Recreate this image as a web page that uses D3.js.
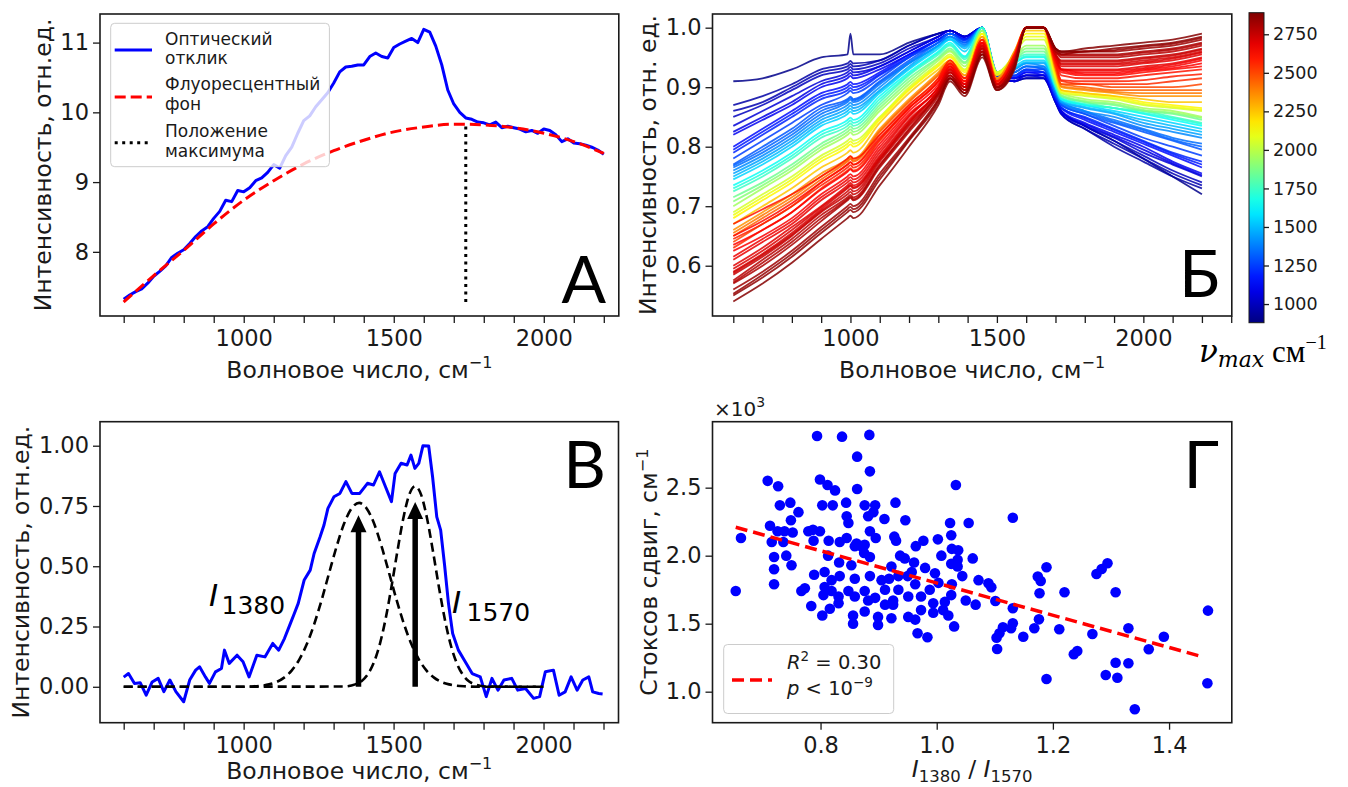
<!DOCTYPE html>
<html><head><meta charset="utf-8">
<script src="https://cdn.jsdelivr.net/npm/d3@7"></script>
<style>
html,body{margin:0;padding:0;background:#fff;}
svg{display:block;}
</style></head>
<body><svg id="chart" width="1348" height="787"></svg>
<script>
// ================= DATA =================
// Panel A: optical response and fluorescence background
const optWave = [600,620,640,660,680,700,720,740,760,780,800,820,840,860,880,900,920,940,960,980,1000,1020,1040,1060,1080,1100,1120,1140,1160,1180,1200,1220,1240,1260,1280,1300,1320,1340,1360,1380,1400,1420,1440,1460,1480,1500,1520,1540,1560,1580,1600,1620,1640,1660,1680,1700,1720,1740,1760,1780,1800,1820,1840,1860,1880,1900,1920,1940,1960,1980,2000,2020,2040,2060,2080,2100,2120,2140,2160,2180,2200];
const optResp = [7.32,7.38,7.43,7.47,7.55,7.65,7.72,7.80,7.92,7.98,8.03,8.12,8.22,8.30,8.36,8.48,8.58,8.74,8.72,8.88,8.86,8.92,9.02,9.06,9.14,9.25,9.20,9.38,9.50,9.70,9.88,9.95,10.08,10.18,10.28,10.42,10.58,10.65,10.66,10.68,10.68,10.80,10.85,10.80,10.78,10.93,10.98,11.02,11.06,11.00,11.19,11.15,10.95,10.68,10.32,10.12,10.00,9.92,9.90,9.86,9.85,9.82,9.86,9.78,9.80,9.78,9.76,9.72,9.74,9.70,9.76,9.74,9.68,9.58,9.62,9.56,9.55,9.53,9.50,9.46,9.40];
const bgWave = [600,700,800,900,1000,1100,1200,1300,1400,1500,1600,1700,1740,1800,1900,2000,2100,2200];
const bgVal  = [7.28,7.66,8.02,8.40,8.74,9.02,9.26,9.45,9.60,9.72,9.79,9.83,9.83,9.82,9.78,9.70,9.58,9.41];
const maxPos = 1740;
const maxSpan = [7.28, 9.83];

// Panel Б: normalized spectra coloured by nu_max
const specGrid = [600,700,800,900,990,1000,1010,1100,1200,1300,1340,1390,1450,1500,1560,1600,1660,1700,1720,1800,1900,2000,2100,2200];
const specVmax = [900,950,975,1000,1050,1075,1100,1150,1175,1200,1250,1300,1325,1350,1400,1450,1500,1550,1650,1700,1750,1850,1900,1950,2050,2100,2150,2250,2350,2400,2450,2500,2550,2580,2600,2620,2640,2650,2670,2680,2700,2710,2720,2740,2750,2780,2790,2800,2830,2850,2860,2880];
const specVals = [
[.91,.915,.93,.95,.955,.99,.955,.955,.975,.99,.995,.985,1.0,.925,.915,.92,.92,.88,.86,.835,.81,.78,.75,.72],
[.87,.885,.905,.93,.94,.944,.94,.945,.97,.99,.995,.985,1.0,.92,.91,.915,.915,.875,.855,.83,.80,.775,.75,.73],
[.86,.875,.90,.925,.935,.939,.935,.945,.97,.99,.995,.985,1.0,.92,.91,.915,.915,.875,.855,.83,.805,.78,.755,.735],
[.85,.87,.895,.92,.93,.934,.93,.94,.965,.985,.995,.985,1.0,.92,.915,.92,.92,.88,.86,.835,.81,.785,.76,.74],
[.835,.86,.885,.91,.925,.929,.925,.935,.96,.985,.995,.985,1.0,.915,.91,.92,.915,.875,.855,.835,.815,.79,.77,.75],
[.825,.85,.875,.905,.92,.924,.92,.935,.96,.985,.995,.985,1.0,.915,.91,.92,.92,.878,.858,.838,.817,.795,.772,.752],
[.82,.845,.87,.90,.915,.919,.915,.93,.955,.98,.99,.982,1.0,.915,.915,.925,.92,.88,.86,.84,.82,.80,.775,.755],
[.80,.83,.86,.89,.905,.909,.905,.925,.955,.98,.99,.98,1.0,.915,.915,.925,.925,.88,.865,.845,.825,.805,.785,.765],
[.795,.825,.855,.885,.90,.904,.90,.922,.952,.98,.99,.98,1.0,.918,.918,.928,.925,.882,.866,.848,.828,.808,.788,.77],
[.79,.82,.85,.88,.895,.899,.895,.92,.95,.98,.99,.98,1.0,.92,.92,.93,.925,.885,.865,.85,.83,.81,.79,.775],
[.78,.81,.84,.87,.89,.894,.89,.915,.95,.975,.99,.978,1.0,.92,.92,.93,.93,.885,.87,.855,.835,.815,.80,.785],
[.77,.80,.83,.865,.88,.884,.88,.91,.945,.975,.985,.975,1.0,.92,.925,.935,.93,.89,.87,.855,.84,.825,.81,.795],
[.768,.795,.825,.86,.878,.882,.878,.908,.942,.975,.99,.975,1.0,.922,.925,.935,.932,.89,.872,.858,.842,.828,.812,.80],
[.765,.79,.82,.855,.875,.879,.875,.905,.94,.97,.985,.972,1.0,.925,.925,.935,.935,.89,.875,.86,.845,.83,.815,.805],
[.76,.785,.815,.85,.87,.874,.87,.90,.94,.97,.985,.97,1.0,.925,.93,.94,.935,.895,.875,.86,.85,.835,.825,.815],
[.755,.78,.81,.845,.865,.869,.865,.895,.935,.97,.98,.968,1.0,.925,.93,.94,.94,.895,.875,.865,.855,.84,.83,.82],
[.75,.775,.805,.84,.86,.864,.86,.893,.932,.968,.982,.965,1.0,.925,.932,.942,.942,.897,.877,.867,.857,.845,.835,.825],
[.745,.77,.80,.835,.855,.859,.855,.89,.93,.965,.98,.96,1.0,.925,.935,.945,.945,.90,.88,.87,.86,.85,.84,.83],
[.735,.76,.79,.825,.845,.849,.845,.885,.925,.96,.975,.952,1.0,.925,.94,.95,.95,.90,.88,.87,.865,.855,.845,.835],
[.73,.755,.785,.82,.84,.844,.84,.88,.922,.958,.972,.95,1.0,.925,.942,.952,.952,.902,.882,.872,.865,.857,.848,.838],
[.725,.75,.78,.815,.835,.839,.835,.875,.92,.955,.97,.947,1.0,.925,.945,.955,.955,.905,.885,.875,.865,.86,.85,.84],
[.715,.74,.77,.805,.83,.834,.83,.87,.915,.95,.965,.942,.995,.925,.945,.96,.96,.905,.885,.875,.87,.86,.855,.845],
[.708,.735,.765,.80,.825,.829,.825,.865,.91,.948,.962,.94,.995,.925,.948,.965,.965,.907,.887,.877,.872,.862,.857,.848],
[.70,.73,.76,.795,.82,.824,.82,.86,.905,.945,.96,.935,.995,.925,.95,.97,.97,.91,.89,.88,.875,.865,.86,.85],
[.69,.72,.75,.785,.81,.814,.81,.85,.90,.94,.955,.93,.99,.925,.955,.98,.98,.915,.89,.885,.88,.87,.865,.86],
[.685,.715,.745,.78,.805,.809,.805,.848,.897,.937,.952,.928,.99,.922,.955,.985,.985,.917,.892,.887,.882,.872,.867,.862],
[.68,.71,.74,.775,.80,.804,.80,.845,.895,.935,.95,.925,.99,.92,.955,.99,.99,.92,.895,.89,.885,.875,.87,.865],
[.67,.70,.73,.765,.79,.794,.79,.84,.89,.93,.945,.92,.985,.915,.96,.995,.995,.925,.895,.89,.885,.88,.875,.875],
[.66,.69,.72,.755,.78,.784,.78,.83,.88,.925,.945,.92,.985,.915,.96,1.0,1.0,.93,.90,.895,.89,.885,.885,.885],
[.655,.685,.715,.75,.777,.781,.777,.827,.877,.922,.942,.915,.98,.912,.957,1.0,1.0,.932,.902,.897,.892,.89,.89,.89],
[.65,.68,.71,.745,.775,.779,.775,.825,.875,.92,.94,.915,.98,.91,.955,1.0,1.0,.935,.905,.90,.895,.895,.895,.895],
[.64,.67,.70,.74,.77,.774,.77,.82,.87,.915,.94,.915,.98,.91,.955,1.0,1.0,.935,.905,.905,.90,.90,.90,.905],
[.63,.66,.69,.73,.76,.764,.76,.81,.865,.91,.935,.91,.975,.91,.95,1.0,1.0,.94,.91,.905,.905,.905,.91,.915],
[.645,.67,.70,.735,.765,.769,.765,.812,.865,.91,.938,.91,.975,.908,.95,1.0,1.0,.94,.912,.91,.91,.912,.918,.922],
[.67,.695,.72,.75,.78,.784,.78,.82,.87,.915,.945,.915,.98,.91,.955,1.0,1.0,.945,.92,.915,.915,.92,.925,.93],
[.65,.675,.705,.74,.77,.774,.77,.815,.865,.91,.94,.91,.975,.905,.95,1.0,1.0,.945,.925,.92,.92,.925,.93,.935],
[.635,.66,.69,.728,.758,.762,.758,.805,.86,.905,.935,.905,.975,.905,.948,1.0,1.0,.947,.928,.922,.922,.928,.932,.94],
[.625,.65,.68,.72,.75,.754,.75,.80,.855,.90,.935,.905,.975,.905,.95,1.0,1.0,.95,.93,.925,.925,.93,.935,.945],
[.615,.645,.675,.715,.745,.749,.745,.795,.852,.90,.932,.905,.972,.905,.946,1.0,1.0,.95,.93,.928,.928,.932,.938,.948],
[.61,.64,.67,.71,.74,.744,.74,.79,.85,.90,.93,.905,.97,.905,.945,1.0,1.0,.95,.93,.93,.93,.935,.94,.95],
[.60,.63,.665,.70,.735,.739,.735,.785,.845,.895,.93,.90,.97,.905,.945,1.0,1.0,.955,.935,.935,.935,.94,.945,.955],
[.595,.625,.66,.698,.732,.736,.732,.782,.842,.895,.928,.90,.968,.905,.945,1.0,1.0,.955,.938,.938,.938,.942,.948,.958],
[.59,.62,.655,.695,.73,.734,.73,.78,.84,.895,.925,.90,.965,.905,.945,1.0,1.0,.955,.94,.94,.94,.945,.95,.96],
[.588,.618,.652,.692,.725,.729,.725,.778,.838,.892,.925,.90,.965,.902,.942,1.0,1.0,.955,.943,.943,.943,.948,.953,.963],
[.585,.615,.65,.69,.72,.724,.72,.775,.835,.89,.925,.90,.965,.90,.94,1.0,1.0,.955,.945,.945,.945,.95,.955,.965],
[.575,.61,.645,.685,.715,.719,.715,.77,.83,.89,.92,.895,.96,.90,.94,1.0,1.0,.96,.95,.95,.95,.955,.96,.97],
[.572,.605,.64,.68,.712,.716,.712,.768,.828,.888,.92,.895,.96,.90,.94,1.0,1.0,.96,.953,.953,.953,.958,.963,.973],
[.57,.60,.635,.675,.71,.714,.71,.765,.825,.885,.92,.895,.96,.90,.94,1.0,1.0,.96,.955,.955,.955,.96,.965,.975],
[.56,.59,.625,.665,.70,.704,.70,.755,.815,.88,.915,.89,.955,.90,.935,1.0,1.0,.965,.955,.96,.96,.965,.97,.98],
[.553,.585,.62,.66,.695,.699,.695,.75,.812,.878,.915,.89,.955,.898,.935,1.0,1.0,.965,.958,.96,.962,.968,.973,.983],
[.55,.58,.615,.655,.69,.694,.69,.745,.81,.875,.915,.89,.955,.895,.935,1.0,1.0,.965,.96,.96,.965,.97,.975,.985],
[.54,.57,.605,.645,.68,.684,.68,.735,.80,.87,.91,.885,.95,.895,.93,1.0,1.0,.965,.96,.965,.97,.975,.98,.99]
];
const cbarRange = [879, 2890];
const cbarTicks = [1000,1250,1500,1750,2000,2250,2500,2750];

// Panel В: background-subtracted spectrum and two bands
const normWave = [600,616,636,655,675,695,715,734,754,774,800,820,840,853,873,886,906,926,936,952,978,998,1018,1044,1071,1097,1117,1136,1156,1169,1182,1202,1222,1235,1255,1268,1281,1301,1321,1341,1361,1387,1413,1433,1453,1473,1493,1505,1525,1545,1558,1571,1584,1598,1617,1630,1644,1657,1670,1683,1697,1716,1736,1762,1789,1809,1828,1848,1868,1894,1914,1940,1967,1987,2006,2033,2052,2072,2092,2112,2131,2151,2164,2184,2197];
const normResp = [0.04,0.055,0.014,0.017,-0.035,0.02,0.035,-0.02,0.028,-0.02,-0.062,0.028,0.069,0.083,0.04,0.014,0.062,0.076,0.152,0.097,0.131,0.104,0.041,0.131,0.124,0.18,0.152,0.2,0.263,0.304,0.346,0.443,0.484,0.553,0.622,0.671,0.74,0.788,0.802,0.851,0.802,0.802,0.844,0.837,0.892,0.83,0.768,0.885,0.927,0.92,0.961,0.906,0.927,1.0,0.999,0.871,0.705,0.65,0.505,0.346,0.221,0.152,0.11,0.055,0.041,-0.041,0.035,-0.014,0.028,0.035,-0.014,-0.007,-0.048,-0.041,0.062,0.069,-0.035,-0.021,0.041,-0.014,0.028,0.041,-0.021,-0.028,-0.03];
const band1380Wave = [600,985,1035,1085,1110,1135,1160,1185,1210,1235,1260,1285,1310,1335,1360,1385,1410,1435,1460,1485,1510,1535,1560,1585,1610,1635,1660,1685,1735,1785,2000];
const band1380Val  = [0,0,0.002,0.010,0.020,0.038,0.067,0.112,0.175,0.259,0.360,0.472,0.582,0.677,0.740,0.763,0.740,0.677,0.582,0.472,0.360,0.259,0.175,0.112,0.067,0.038,0.020,0.010,0.002,0,0];
const band1570Wave = [600,1332,1372,1392,1412,1432,1452,1472,1492,1512,1532,1552,1572,1592,1612,1632,1652,1672,1692,1712,1732,1752,1772,1812,2000];
const band1570Val  = [0,0.001,0.010,0.022,0.048,0.094,0.167,0.273,0.408,0.557,0.696,0.796,0.832,0.796,0.696,0.557,0.408,0.273,0.167,0.094,0.048,0.022,0.010,0.001,0];
const arrowWave = [1383, 1572];
const arrowTop  = [0.712, 0.767];

// Panel Г: Stokes shift vs I1380/I1570
const ratio = [0.709,0.727,0.799,0.812,0.825,0.863,0.885,1.033,0.730,0.748,0.762,0.749,0.803,0.821,0.844,0.845,0.848,0.876,0.894,0.882,0.891,0.910,0.929,0.946,0.713,0.726,0.738,0.752,0.663,0.716,0.736,0.779,0.787,0.799,0.788,0.814,0.833,0.845,0.862,0.876,0.885,0.895,0.927,0.930,0.964,0.977,1.002,1.023,1.055,1.025,1.026,1.037,1.008,0.720,0.741,0.750,0.720,0.720,0.654,0.813,0.832,0.853,0.859,0.870,0.885,0.875,0.922,0.937,0.945,0.961,0.957,0.980,0.997,1.025,1.036,1.036,1.062,1.044,1.072,0.789,0.807,0.819,0.833,0.859,0.885,0.905,0.918,0.934,0.950,0.773,0.767,0.807,0.805,0.819,0.831,0.848,0.859,0.876,0.894,0.911,0.925,0.951,0.973,0.994,1.014,1.025,0.784,0.803,0.816,0.831,0.856,0.856,0.876,0.899,0.899,0.922,0.925,0.951,0.963,0.967,0.984,0.973,0.994,1.011,1.020,1.030,1.050,1.067,0.911,0.882,0.934,0.988,1.003,0.963,1.026,0.794,0.837,0.884,0.863,1.131,1.089,1.094,1.101,1.189,1.174,1.179,1.177,1.220,1.294,1.284,1.275,1.308,1.131,1.176,1.131,1.114,1.128,1.103,1.108,1.104,1.149,1.168,1.211,1.268,1.330,1.391,1.365,1.236,1.242,1.308,1.330,1.291,1.311,1.189,1.341,1.467,1.466];
const stokes = [2550,2510,2560,2520,2480,2490,2620,2520,2370,2390,2320,2260,2370,2370,2390,2290,2240,2370,2370,2290,2320,2270,2390,2260,2220,2180,2180,2170,2130,2100,2100,2180,2190,2180,2110,2110,2100,2130,2090,2080,2180,2130,2140,2110,2070,2110,2120,2240,2240,2150,2050,2040,2000,1990,2000,1930,1900,1790,1740,2000,1950,1930,2070,2070,1990,2020,1920,2000,1980,1950,1880,1910,1870,1940,1970,1920,1980,1850,1820,1860,1880,1820,1850,1830,1850,1820,1830,1850,1850,1760,1740,1770,1710,1740,1700,1740,1700,1740,1690,1750,1670,1700,1700,1650,1660,1710,1630,1560,1610,1650,1560,1500,1590,1550,1490,1540,1640,1550,1530,1430,1400,1600,1580,1600,1560,1480,1670,1640,1640,1670,1750,1750,1800,1790,1790,2880,2875,2888,2728,2279,1797,1768,1667,1915,1846,1814,1724,1731,1944,1902,1865,1731,1613,1532,1503,1474,1466,1397,1429,1314,1404,1466,1459,1424,1466,1404,1312,1275,1299,1213,1209,1123,1103,1093,871,1596,1062];
const fitX = [0.654, 1.46];
const fitY = [2209, 1254];
const fitLabel = ["R", "2", " = 0.30"];

// tick values / labels
const waveTicksA = [600,700,800,900,1000,1100,1200,1300,1400,1500,1600,1700,1800,1900,2000,2100,2200];
const waveTicksB = [600,700,800,900,1000,1100,1200,1300,1400,1500,1600,1700,1800,1900,2000,2100,2200,2300];
const waveLabels = [1000,1500,2000];
const yTicksA = [8,9,10,11];
const yTicksB = [0.6,0.7,0.8,0.9,1.0];
const yTicksC = [0,0.25,0.5,0.75,1.0];
const xTicksD = [0.8,1.0,1.2,1.4];
const yTicksD = [1000,1500,2000,2500];

// ================= DRAWING =================
const FONT = "'DejaVu Sans', sans-serif";
const INK = "#1a1a1a";
const TICK_FS = 22.5, LAB_FS = 23.5;
const svg = d3.select("#chart");

const PA = {l:100, t:14, r:618.8, b:316};
const PB = {l:712.5, t:14, r:1231.8, b:316};
const PC = {l:100, t:421.7, r:618.5, b:722.7};
const PD = {l:712.5, t:421.7, r:1231.8, b:722.7};

function jet(t){
  t = Math.max(0, Math.min(1, t));
  const c = v => Math.round(255*Math.max(0, Math.min(1, v)));
  return `rgb(${c(1.5-Math.abs(4*t-3))},${c(1.5-Math.abs(4*t-2))},${c(1.5-Math.abs(4*t-1))})`;
}

function styleAxis(g, fs){
  g.select("path.domain").remove();
  g.selectAll(".tick line").attr("stroke", INK).attr("stroke-width", 1.3);
  g.selectAll(".tick text").attr("font-family", FONT).attr("font-size", fs).attr("fill", INK);
}
function frame(P){
  svg.append("rect").attr("x",P.l).attr("y",P.t).attr("width",P.r-P.l).attr("height",P.b-P.t)
    .attr("fill","none").attr("stroke",INK).attr("stroke-width",1.6);
}
function xAxis(P, x, ticks, fmt){
  const g = svg.append("g").attr("transform",`translate(0,${P.b})`)
    .call(d3.axisBottom(x).tickValues(ticks).tickFormat(fmt).tickSize(7).tickPadding(7));
  styleAxis(g, TICK_FS);
}
function yAxis(P, y, ticks, fmt){
  const g = svg.append("g").attr("transform",`translate(${P.l},0)`)
    .call(d3.axisLeft(y).tickValues(ticks).tickFormat(fmt).tickSize(7).tickPadding(4));
  styleAxis(g, TICK_FS);
}
function yLabel(cx, cy, parts){
  const t = svg.append("text").attr("transform",`translate(${cx},${cy}) rotate(-90)`)
    .attr("text-anchor","middle").attr("dy","0.35em").attr("font-family",FONT).attr("font-size",LAB_FS).attr("fill",INK);
  parts.forEach(p => { const s = t.append("tspan").text(p.t); if(p.sup){s.attr("font-size",16).attr("dy",-9);} });
}
function xLabel(cx, by, parts){
  const t = svg.append("text").attr("x",cx).attr("y",by).attr("text-anchor","middle")
    .attr("font-family",FONT).attr("font-size",LAB_FS).attr("fill",INK);
  parts.forEach(p => { const s = t.append("tspan").text(p.t); if(p.sup) s.attr("font-size",16).attr("dy",-10); });
  return t;
}
function bigLetter(txt, rx, by){
  svg.append("text").attr("x",rx).attr("y",by).attr("text-anchor","end")
    .attr("font-family","Lato, 'Open Sans', sans-serif").attr("font-size",66).attr("fill","#000").text(txt);
}
const waveFmt = d => waveLabels.includes(d) ? d : "";

// ---------- Panel A ----------
{
  const x = d3.scaleLinear().domain([521, 2250]).range([PA.l, PA.r]);
  const y = d3.scaleLinear().domain([7.08, 11.41]).range([PA.b, PA.t]);
  const line = d3.line().x(d=>x(d[0])).y(d=>y(d[1]));
  svg.append("path").attr("d", line(d3.zip(optWave, optResp))).attr("fill","none")
    .attr("stroke","#0000ff").attr("stroke-width",3).attr("stroke-linejoin","round");
  svg.append("path").attr("d", line.curve(d3.curveMonotoneX)(d3.zip(bgWave, bgVal))).attr("fill","none")
    .attr("stroke","#ff0000").attr("stroke-width",3).attr("stroke-dasharray","11,5");
  svg.append("line").attr("x1",x(maxPos)).attr("x2",x(maxPos)).attr("y1",y(maxSpan[0])).attr("y2",y(maxSpan[1]))
    .attr("stroke","#000").attr("stroke-width",3).attr("stroke-dasharray","3,4.5");
  const lg = svg.append("g");
  lg.append("rect").attr("x",110.7).attr("y",23.3).attr("width",218.7).attr("height",143.4).attr("rx",4)
    .attr("fill","#fff").attr("fill-opacity",0.8).attr("stroke","#cccccc").attr("stroke-width",1);
  const items = [
    {y:50, stroke:"#0000ff", dash:null, lines:["Оптический","отклик"], base:[45,64]},
    {y:97, stroke:"#ff0000", dash:"11,5", lines:["Флуоресцентный","фон"], base:[90,110]},
    {y:142.7, stroke:"#000", dash:"3,4.5", lines:["Положение","максимума"], base:[136.5,156.5]}
  ];
  items.forEach(it => {
    const l = lg.append("line").attr("x1",114.7).attr("x2",152).attr("y1",it.y).attr("y2",it.y)
      .attr("stroke",it.stroke).attr("stroke-width",3);
    if(it.dash) l.attr("stroke-dasharray",it.dash);
    it.lines.forEach((s,i)=> lg.append("text").attr("x",165).attr("y",it.base[i]).attr("font-family",FONT)
      .attr("font-size",17).attr("fill",INK).text(s));
  });
  xAxis(PA, x, waveTicksA, waveFmt);
  yAxis(PA, y, yTicksA, d3.format("d"));
  frame(PA);
  xLabel((PA.l+PA.r)/2, 378, [{t:"Волновое число, см"},{t:"−1",sup:true}]);
  yLabel(43, (PA.t+PA.b)/2, [{t:"Интенсивность, отн.ед."}]);
  bigLetter("А", 606, 303);
}

// ---------- Panel Б ----------
{
  const x = d3.scaleLinear().domain([529, 2302]).range([PB.l, PB.r]);
  const y = d3.scaleLinear().domain([0.5155, 1.023]).range([PB.b, PB.t]);
  const cnorm = d3.scaleLinear().domain(cbarRange).range([0,1]);
  const line = d3.line().x(d=>x(d[0])).y(d=>y(d[1])).curve(d3.curveMonotoneX);
  const order = d3.range(specVals.length).sort((a,b)=>specVmax[a]-specVmax[b]);
  order.forEach(i => {
    svg.append("path").attr("d", line(d3.zip(specGrid, specVals[i]))).attr("fill","none")
      .attr("stroke", jet(cnorm(specVmax[i]))).attr("stroke-width",1.8).attr("stroke-opacity",0.85)
      .attr("stroke-linejoin","round");
  });
  xAxis(PB, x, waveTicksB, waveFmt);
  yAxis(PB, y, yTicksB, d3.format(".1f"));
  frame(PB);
  xLabel((PB.l+PB.r)/2, 378, [{t:"Волновое число, см"},{t:"−1",sup:true}]);
  yLabel(648, (PB.t+PB.b)/2, [{t:"Интенсивность, отн. ед."}]);
  bigLetter("Б", 1220, 297);
  const defs = svg.append("defs");
  const grad = defs.append("linearGradient").attr("id","jetg").attr("x1",0).attr("y1",1).attr("x2",0).attr("y2",0);
  d3.range(0, 1.0001, 0.05).forEach(t => grad.append("stop").attr("offset",t).attr("stop-color",jet(t)));
  const cb = {l:1249, r:1264, t:12.7, b:322.7};
  svg.append("rect").attr("x",cb.l).attr("y",cb.t).attr("width",cb.r-cb.l).attr("height",cb.b-cb.t).attr("fill","url(#jetg)");
  svg.append("rect").attr("x",cb.l).attr("y",cb.t).attr("width",cb.r-cb.l).attr("height",cb.b-cb.t)
    .attr("fill","none").attr("stroke",INK).attr("stroke-width",1);
  const cy = d3.scaleLinear().domain(cbarRange).range([cb.b, cb.t]);
  const g = svg.append("g").attr("transform",`translate(${cb.r},0)`)
    .call(d3.axisRight(cy).tickValues(cbarTicks).tickSize(5).tickPadding(4).tickFormat(d3.format("d")));
  styleAxis(g, 17.5);
  const t = svg.append("text").attr("x",1199).attr("y",362).attr("fill","#000").attr("font-size",31)
    .attr("font-family","'DejaVu Serif', serif");
  t.append("tspan").attr("font-style","italic").text("ν");
  t.append("tspan").attr("font-style","italic").attr("font-size",22).attr("dy",5).text("max");
  t.append("tspan").attr("dy",-5).attr("font-family","'Liberation Serif', serif").text(" см");
  t.append("tspan").attr("font-size",20).attr("dy",-13).attr("font-family","'Liberation Serif', serif").text("−1");
}

// ---------- Panel В ----------
{
  const x = d3.scaleLinear().domain([521, 2250]).range([PC.l, PC.r]);
  const y = d3.scaleLinear().domain([-0.149, 1.0996]).range([PC.b, PC.t]);
  const line = d3.line().x(d=>x(d[0])).y(d=>y(d[1]));
  const sline = d3.line().x(d=>x(d[0])).y(d=>y(d[1])).curve(d3.curveMonotoneX);
  svg.append("path").attr("d", line(d3.zip(normWave, normResp))).attr("fill","none")
    .attr("stroke","#0000ff").attr("stroke-width",3).attr("stroke-linejoin","round");
  [[band1380Wave, band1380Val],[band1570Wave, band1570Val]].forEach(([w,v]) => {
    svg.append("path").attr("d", sline(d3.zip(w,v))).attr("fill","none")
      .attr("stroke","#000").attr("stroke-width",2.6).attr("stroke-dasharray","9,5");
  });
  arrowWave.forEach((w,i) => {
    const ax = x(w), y0 = y(0), y1 = y(arrowTop[i]);
    svg.append("line").attr("x1",ax).attr("x2",ax).attr("y1",y0).attr("y2",y1+14)
      .attr("stroke","#000").attr("stroke-width",5.5);
    svg.append("path").attr("d",`M${ax},${y1} L${ax-8},${y1+17} L${ax+8},${y1+17} Z`).attr("fill","#000");
  });
  const ann = [{lab:"1380", ix:209, iy:606, sx:221.5, sy:614},{lab:"1570", ix:452, iy:613, sx:466.5, sy:621}];
  ann.forEach(a => {
    svg.append("text").attr("x",a.ix).attr("y",a.iy).attr("font-family",FONT).attr("font-style","italic")
      .attr("font-size",31).attr("fill","#000").text("I");
    svg.append("text").attr("x",a.sx).attr("y",a.sy).attr("font-family",FONT)
      .attr("font-size",25).attr("fill","#000").text(a.lab);
  });
  xAxis(PC, x, waveTicksA, waveFmt);
  yAxis(PC, y, yTicksC, d3.format(".2f"));
  frame(PC);
  xLabel((PC.l+PC.r)/2, 779, [{t:"Волновое число, см"},{t:"−1",sup:true}]);
  yLabel(21, (PC.t+PC.b)/2, [{t:"Интенсивность, отн.ед."}]);
  bigLetter("В", 606, 488);
}

// ---------- Panel Г ----------
{
  const x = d3.scaleLinear().domain([0.614, 1.508]).range([PD.l, PD.r]);
  const y = d3.scaleLinear().domain([772, 2985]).range([PD.b, PD.t]);
  svg.append("g").selectAll("circle").data(d3.zip(ratio, stokes)).join("circle")
    .attr("cx",d=>x(d[0])).attr("cy",d=>y(d[1])).attr("r",5.3).attr("fill","#0000ff");
  svg.append("line").attr("x1",x(fitX[0])).attr("x2",x(fitX[1])).attr("y1",y(fitY[0])).attr("y2",y(fitY[1]))
    .attr("stroke","#ff0000").attr("stroke-width",3.5).attr("stroke-dasharray","12,6");
  xAxis(PD, x, xTicksD, d3.format(".1f"));
  yAxis(PD, y, yTicksD, d => (d/1000).toFixed(1));
  frame(PD);
  const ot = svg.append("text").attr("x",714).attr("y",416).attr("font-family",FONT).attr("font-size",20).attr("fill",INK);
  ot.append("tspan").text("×10"); ot.append("tspan").attr("font-size",14).attr("dy",-9).text("3");
  const lg = svg.append("g");
  lg.append("rect").attr("x",723.7).attr("y",644.5).attr("width",170).attr("height",69).attr("rx",4)
    .attr("fill","#fff").attr("fill-opacity",0.8).attr("stroke","#cccccc");
  lg.append("line").attr("x1",732).attr("x2",772).attr("y1",680).attr("y2",680)
    .attr("stroke","#ff0000").attr("stroke-width",3.5).attr("stroke-dasharray","12,6");
  const r2 = lg.append("text").attr("x",787).attr("y",669).attr("font-family",FONT).attr("font-size",19.5).attr("fill",INK);
  r2.append("tspan").attr("font-style","italic").text(fitLabel[0]);
  r2.append("tspan").attr("font-size",13.5).attr("dy",-8).text(fitLabel[1]);
  r2.append("tspan").attr("dy",8).text(fitLabel[2]);
  const pv = lg.append("text").attr("x",787).attr("y",695).attr("font-family",FONT).attr("font-size",19.5).attr("fill",INK);
  pv.append("tspan").attr("font-style","italic").text("p");
  pv.append("tspan").text(" < 10");
  pv.append("tspan").attr("font-size",13.5).attr("dy",-8).text("−9");
  const xl = svg.append("text").attr("x",(PD.l+PD.r)/2).attr("y",777).attr("text-anchor","middle")
    .attr("font-family",FONT).attr("font-size",LAB_FS).attr("fill",INK);
  xl.append("tspan").attr("font-style","italic").text("I");
  xl.append("tspan").attr("font-size",16.5).attr("dy",5).text("1380");
  xl.append("tspan").attr("dy",-5).text(" / ");
  xl.append("tspan").attr("font-style","italic").text("I");
  xl.append("tspan").attr("font-size",16.5).attr("dy",5).text("1570");
  yLabel(649, (PD.t+PD.b)/2, [{t:"Стоксов сдвиг, см"},{t:"−1",sup:true}]);
  bigLetter("Г", 1219, 488);
}
</script>
</body></html>
